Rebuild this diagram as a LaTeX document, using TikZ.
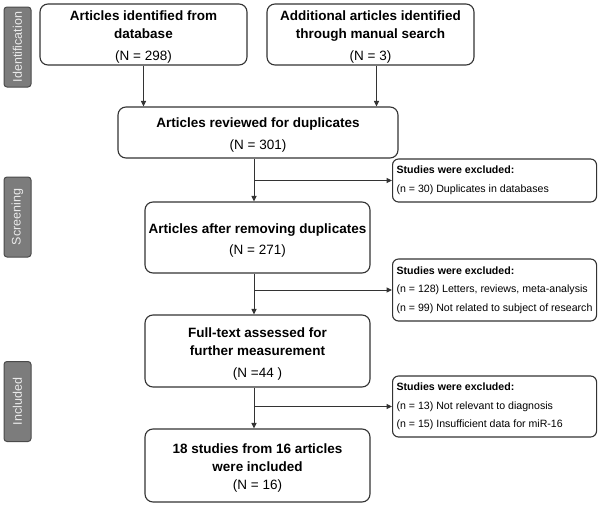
\documentclass[tikz,border=0pt]{standalone}
\usepackage{fontspec}
\setmainfont{Liberation Sans}
\usetikzlibrary{arrows.meta}
\definecolor{linegray}{HTML}{333333}
\definecolor{tabgray}{HTML}{7C7C7C}
\definecolor{tabedge}{HTML}{4A4A4A}
\newcommand{\topgap}{\rule{0pt}{15pt}}

\begin{document}
\begin{tikzpicture}[x=1pt,y=-1pt,
    box/.style={draw=linegray,line width=1.1pt,rounded corners=8pt,inner sep=0pt,
        align=center,font=\fontsize{13.5}{18}\selectfont},
    exbox/.style={draw=linegray,line width=1.1pt,rounded corners=6pt,inner xsep=4pt,
        inner ysep=3pt,anchor=west,text width=196pt,align=flush left,
        font=\fontsize{10.6}{18.5}\selectfont},
    tab/.style={draw=tabedge,fill=tabgray,line width=1pt,rounded corners=3pt,rotate=90,
        minimum width=80pt,minimum height=27pt,inner sep=0pt,text=white!92!black,
        font=\fontsize{12.5}{15}\selectfont},
    arr/.style={draw=linegray,line width=1pt,-{Triangle[length=5.5pt,width=5pt]}}]
            		\useasboundingbox (0,0) rectangle (600,506);

            		% stage tabs
            		\node (t1) at (17.5,47) [tab] {Identification};
            		\node (t2) at (17.5,217) [tab] {Screening};
            		\node (t3) at (17.5,401.5) [tab] {Included};

            		% main boxes
            		\node (b1) at (143.5,34.5) [box,minimum width=207pt,minimum height=61pt]
            		    {\topgap\textbf{Articles identified from}\\\textbf{database}\\[4pt](N = 298)};
            		\node (b2) at (370.5,34.5) [box,minimum width=207pt,minimum height=61pt]
            		    {\topgap\textbf{Additional articles identified}\\\textbf{through manual search}\\[4pt](N = 3)};
            		\node (b3) at (258,132.5) [box,minimum width=280pt,minimum height=51pt]
            		    {\topgap\textbf{Articles reviewed for duplicates}\\[4pt](N = 301)};
            		\node (b4) at (257.5,237.5) [box,minimum width=225pt,minimum height=71pt]
            		    {\topgap\textbf{Articles after removing duplicates}\\[3pt](N = 271)};
            		\node (b5) at (257.5,351) [box,minimum width=225pt,minimum height=72pt]
            		    {\topgap\textbf{Full-text assessed for}\\\textbf{further measurement}\\[4pt](N =44 )};
            		\node (b6) at (257.5,465.5) [box,minimum width=225pt,minimum height=73pt]
            		    {\topgap\textbf{18 studies from 16 articles}\\\textbf{were included}\\(N = 16)};

            		% exclusion boxes
            		\node (e1) at (392,180.5) [exbox,minimum height=43pt]
            		    {\textbf{Studies were excluded:}\\\mbox{(n = 30) Duplicates in databases}};
            		\node (e2) at (392,290) [exbox,minimum height=62pt]
            		    {\textbf{Studies were excluded:}\\\mbox{(n = 128) Letters, reviews, meta-analysis}\\\mbox{(n = 99) Not related to subject of research}};
            		\node (e3) at (392,406.5) [exbox,minimum height=61pt]
            		    {\textbf{Studies were excluded:}\\\mbox{(n = 13) Not relevant to diagnosis}\\\mbox{(n = 15) Insufficient data for miR-16}};

            		% spine points
            		\coordinate (s3) at ([xshift=-4pt]b3.south);
            		\coordinate (s4) at ([xshift=-3.5pt]b4.south);
            		\coordinate (s5) at ([xshift=-3.5pt]b5.south);

            		\draw[arr] (b1.south) -- (b1.south |- b3.north);
            		\draw[arr] ([xshift=6pt]b2.south) -- ([xshift=6pt]b2.south |- b3.north);
            		\draw[arr] (s3) -- (s3 |- b4.north);
            		\draw[arr] (s4) -- (s4 |- b5.north);
            		\draw[arr] (s5) -- (s5 |- b6.north);
            		\draw[arr] (s3 |- e1.west) -- (e1.west);
            		\draw[arr] (s4 |- e2.west) -- (e2.west);
            		\draw[arr] (s5 |- e3.west) -- (e3.west);

        		\end{tikzpicture}
\end{document}
